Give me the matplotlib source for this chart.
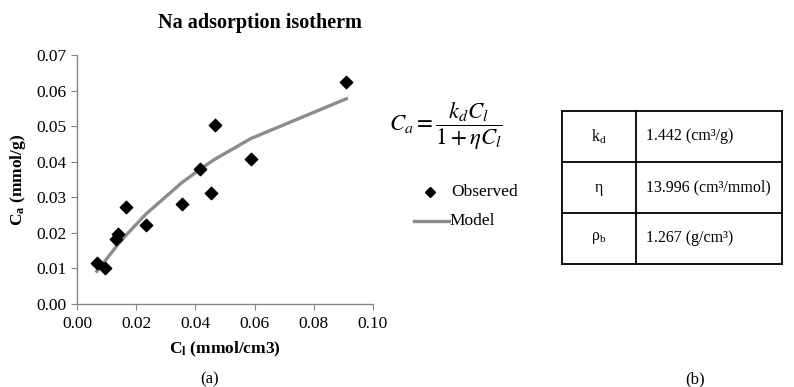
import matplotlib
matplotlib.use("Agg")
import matplotlib.pyplot as plt
from matplotlib.lines import Line2D

plt.rcParams['font.family'] = ['Liberation Serif', 'DejaVu Serif']
plt.rcParams['mathtext.fontset'] = 'custom'
plt.rcParams['mathtext.rm'] = 'Liberation Serif'
plt.rcParams['mathtext.it'] = 'Liberation Serif:italic'
plt.rcParams['mathtext.bf'] = 'Liberation Serif:bold'

# observed isotherm points
cl_obs = [0.0067, 0.0093, 0.0133, 0.0140, 0.0164, 0.0233, 0.0354,
          0.0416, 0.0453, 0.0466, 0.0587, 0.0910]
ca_obs = [0.0115, 0.0101, 0.0182, 0.0196, 0.0272, 0.0223, 0.0281,
          0.0379, 0.0313, 0.0502, 0.0407, 0.0624]
# model curve read at the same concentrations
ca_model = [0.0092, 0.0119, 0.0162, 0.0169, 0.0192, 0.0253, 0.0341,
            0.0379, 0.0400, 0.0407, 0.0465, 0.0577]

x_ticks = [0.00, 0.02, 0.04, 0.06, 0.08, 0.10]
y_ticks = [0.00, 0.01, 0.02, 0.03, 0.04, 0.05, 0.06, 0.07]

param_names = [r'k$_\mathregular{d}$', 'η', r'ρ$_\mathregular{b}$']
param_values = ['1.442 (cm³/g)', '13.996 (cm³/mmol)', '1.267 (g/cm³)']

W, H = 794, 387
fig = plt.figure(figsize=(W / 100, H / 100), dpi=100)


def fx(px):
    return px / W


def fy(py):
    return 1 - py / H


# --- (a) isotherm plot ---
ax = fig.add_axes([fx(77), fy(304), 296 / W, 249 / H])
ax.plot(cl_obs, ca_model, color='#8c8c8c', lw=2.4, zorder=2)
ax.scatter(cl_obs, ca_obs, marker='D', s=40, color='black', zorder=3)
ax.set_xlim(0, 0.10)
ax.set_ylim(0, 0.07)
ax.set_xticks(x_ticks)
ax.set_yticks(y_ticks)
ax.set_xticklabels([f'{v:.2f}' for v in x_ticks])
ax.set_yticklabels([f'{v:.2f}' for v in y_ticks])
for s in ['top', 'right']:
    ax.spines[s].set_visible(False)
for s in ['left', 'bottom']:
    ax.spines[s].set_color('#868686')
    ax.spines[s].set_linewidth(1.0)
ax.tick_params(direction='out', length=4, color='#868686', labelsize=12.5)
ax.tick_params(axis='x', pad=5)
ax.set_xlabel(r'C$_\mathbf{l}$ (mmol/cm3)', fontsize=12.5, fontweight='bold', labelpad=5)
ax.set_ylabel(r'C$_\mathbf{a}$ (mmol/g)', fontsize=12.5, fontweight='bold', labelpad=6)

fig.text(fx(260), fy(23), 'Na adsorption isotherm', ha='center', va='center',
         fontsize=14.5, fontweight='bold')
fig.text(fx(210), fy(379), '(a)', ha='center', va='center', fontsize=12)

# equation
fig.text(fx(389), fy(126),
         r'$C_a = \dfrac{k_d C_l}{1 + \eta C_l}$',
         ha='left', va='center', fontsize=16.5, math_fontfamily='stix')

# legend built by hand
fig.add_artist(Line2D([fx(430)], [fy(192)], marker='D', markersize=5.5,
                      color='black', linestyle='none'))
fig.text(fx(451), fy(192), 'Observed', ha='left', va='center', fontsize=12.5)
fig.add_artist(Line2D([fx(414), fx(449)], [fy(221), fy(221)],
                      color='#8c8c8c', lw=2.4))
fig.text(fx(449), fy(221), 'Model', ha='left', va='center', fontsize=12.5)

# --- (b) parameter table ---
tx0, tx1, tx2 = 562, 636, 782
ty = [111, 162, 213, 264]
for y in ty:
    fig.add_artist(Line2D([fx(tx0), fx(tx2)], [fy(y), fy(y)], color='black', lw=1.3))
for x in [tx0, tx1, tx2]:
    fig.add_artist(Line2D([fx(x), fx(x)], [fy(ty[0]), fy(ty[-1])], color='black', lw=1.3))
for i, (name, val) in enumerate(zip(param_names, param_values)):
    yc = fy((ty[i] + ty[i + 1]) / 2)
    fig.text(fx((tx0 + tx1) / 2), yc, name, ha='center', va='center', fontsize=11.5)
    fig.text(fx(646), yc, val, ha='left', va='center', fontsize=11.5)

fig.text(fx(695), fy(379), '(b)', ha='center', va='center', fontsize=12)

fig.savefig('out.png', dpi=100)
